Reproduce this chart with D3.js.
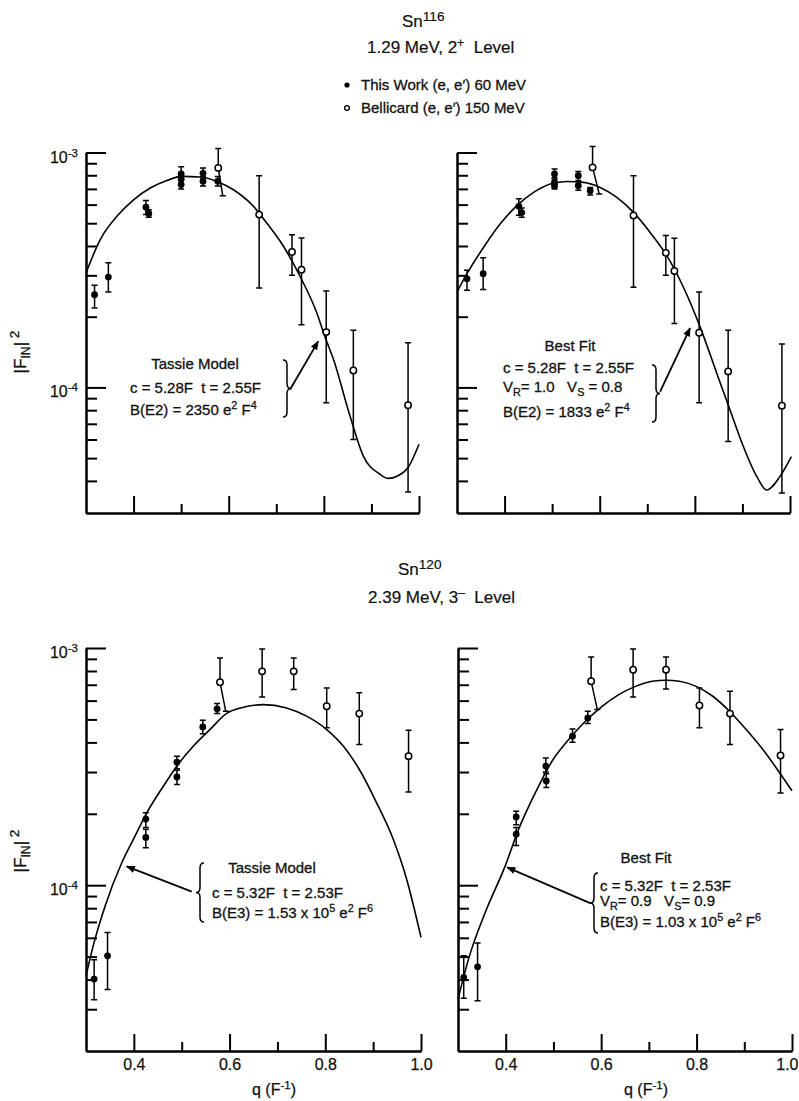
<!DOCTYPE html>
<html>
<head>
<meta charset="utf-8">
<script src="https://cdn.jsdelivr.net/npm/d3@7"></script>
<style>
  body { margin: 0; background: #fff; }
  svg { display: block; font-family: "Liberation Sans", Arial, Helvetica, sans-serif; }
  .axis path, .axis line { stroke: #000; stroke-width: 2; }
  .curve { fill: none; stroke: #000; stroke-width: 1.6; }
  .err { stroke: #000; stroke-width: 1.5; fill: none; }
  .note { font-size: 15px; fill: #111; stroke: #111; stroke-width: 0.3px; }
  .tick-label { font-size: 16px; fill: #111; stroke: #111; stroke-width: 0.25px; }
  .title { font-size: 17px; fill: #111; stroke: #111; stroke-width: 0.2px; }
  .ylab { font-size: 17px; fill: #111; stroke: #111; stroke-width: 0.3px; }
</style>
</head>
<body>
<script>
const width = 799, height = 1101;

// Sn116 2+ panel data, rows are [q, |F|^2, low, high]
const topLeftThisWork = [
  [0.318, 2.48e-4, 2.18e-4, 2.72e-4],
  [0.347, 2.95e-4, 2.55e-4, 3.39e-4],
  [0.426, 5.85e-4, 5.45e-4, 6.25e-4],
  [0.432, 5.50e-4, 5.30e-4, 5.70e-4],
  [0.500, 8.10e-4, 7.70e-4, 8.70e-4],
  [0.500, 7.70e-4, 7.30e-4, 8.10e-4],
  [0.500, 7.30e-4, 7.00e-4, 7.60e-4],
  [0.546, 8.15e-4, 7.80e-4, 8.60e-4],
  [0.546, 7.55e-4, 7.20e-4, 7.90e-4],
  [0.577, 7.55e-4, 7.20e-4, 7.90e-4]
];
// Bellicard rows: [q, |F|^2, low, high, q where the lower bar ends (if slanted)]
const topLeftBellicard = [
  [0.578, 8.60e-4, 6.54e-4, 1.04e-3, 0.5875],
  [0.664, 5.44e-4, 2.65e-4, 7.96e-4],
  [0.733, 3.77e-4, 3.00e-4, 4.47e-4],
  [0.753, 3.17e-4, 1.85e-4, 4.33e-4],
  [0.805, 1.72e-4, 8.60e-5, 2.57e-4],
  [0.862, 1.18e-4, 6.00e-5, 1.75e-4],
  [0.977, 8.40e-5, 3.59e-5, 1.55e-4]
];
const topLeftCurve = [
  [0.300, 3.07e-4], [0.330, 4.26e-4], [0.365, 5.35e-4], [0.400, 6.29e-4],
  [0.435, 7.06e-4], [0.470, 7.60e-4], [0.501, 7.91e-4], [0.540, 7.86e-4],
  [0.575, 7.53e-4], [0.610, 6.94e-4], [0.652, 5.90e-4], [0.680, 5.01e-4],
  [0.715, 3.99e-4], [0.750, 2.97e-4], [0.785, 2.08e-4], [0.802, 1.65e-4],
  [0.820, 1.32e-4], [0.855, 7.55e-5], [0.883, 5.10e-5], [0.918, 4.27e-5],
  [0.935, 4.10e-5], [0.955, 4.20e-5], [0.977, 4.56e-5], [1.000, 5.73e-5]
];

const topRightThisWork = [
  [0.321, 2.90e-4, 2.59e-4, 3.15e-4],
  [0.355, 3.05e-4, 2.61e-4, 3.56e-4],
  [0.430, 5.90e-4, 5.40e-4, 6.35e-4],
  [0.436, 5.55e-4, 5.30e-4, 5.80e-4],
  [0.505, 8.10e-4, 7.70e-4, 8.50e-4],
  [0.505, 7.46e-4, 7.10e-4, 7.80e-4],
  [0.505, 7.22e-4, 7.00e-4, 7.50e-4],
  [0.555, 7.97e-4, 7.60e-4, 8.30e-4],
  [0.555, 7.22e-4, 6.90e-4, 7.50e-4],
  [0.580, 6.88e-4, 6.60e-4, 7.10e-4]
];
const topRightBellicard = [
  [0.585, 8.64e-4, 6.66e-4, 1.06e-3, 0.599],
  [0.671, 5.39e-4, 2.67e-4, 7.96e-4],
  [0.739, 3.74e-4, 3.00e-4, 4.43e-4],
  [0.757, 3.13e-4, 1.87e-4, 4.31e-4],
  [0.809, 1.71e-4, 8.60e-5, 2.55e-4],
  [0.870, 1.17e-4, 5.88e-5, 1.75e-4],
  [0.983, 8.35e-5, 3.55e-5, 1.53e-4]
];
const topRightCurve = [
  [0.300, 2.55e-4], [0.321, 3.05e-4], [0.356, 3.95e-4], [0.391, 4.97e-4],
  [0.426, 5.94e-4], [0.461, 6.76e-4], [0.496, 7.34e-4], [0.531, 7.53e-4],
  [0.566, 7.46e-4], [0.601, 7.10e-4], [0.636, 6.44e-4], [0.671, 5.56e-4],
  [0.706, 4.57e-4], [0.741, 3.64e-4], [0.776, 2.67e-4], [0.811, 1.81e-4],
  [0.846, 1.15e-4], [0.874, 8.01e-5], [0.902, 5.60e-5], [0.930, 4.18e-5],
  [0.951, 3.66e-5], [0.979, 4.18e-5], [1.003, 5.07e-5]
];

// Sn120 3- panel data
const bottomLeftThisWork = [
  [0.317, 4.02e-5, 3.29e-5, 4.85e-5],
  [0.345, 5.04e-5, 3.63e-5, 6.32e-5],
  [0.425, 1.90e-4, 1.75e-4, 2.02e-4],
  [0.425, 1.59e-4, 1.44e-4, 1.72e-4],
  [0.490, 3.30e-4, 3.10e-4, 3.50e-4],
  [0.490, 2.86e-4, 2.66e-4, 3.05e-4],
  [0.544, 4.65e-4, 4.35e-4, 4.96e-4],
  [0.574, 5.54e-4, 5.29e-4, 5.83e-4]
];
const bottomLeftBellicard = [
  [0.580, 7.17e-4, 5.41e-4, 9.08e-4, 0.592],
  [0.668, 7.97e-4, 6.22e-4, 9.90e-4],
  [0.734, 7.97e-4, 6.68e-4, 9.08e-4],
  [0.803, 5.68e-4, 4.61e-4, 6.79e-4],
  [0.871, 5.29e-4, 3.92e-4, 6.47e-4],
  [0.974, 3.50e-4, 2.47e-4, 4.50e-4]
];
const bottomLeftCurve = [
  [0.300, 4.15e-5], [0.315, 5.55e-5], [0.340, 8.18e-5], [0.375, 1.246e-4],
  [0.399, 1.561e-4], [0.427, 2.02e-4], [0.462, 2.62e-4], [0.490, 3.18e-4],
  [0.524, 3.85e-4], [0.559, 4.53e-4], [0.594, 5.30e-4], [0.625, 5.60e-4],
  [0.670, 5.77e-4], [0.719, 5.59e-4], [0.761, 5.16e-4], [0.803, 4.53e-4],
  [0.838, 3.85e-4], [0.873, 3.03e-4], [0.907, 2.23e-4], [0.942, 1.561e-4],
  [0.970, 1.06e-4], [1.000, 6.03e-5]
];

const bottomRightThisWork = [
  [0.312, 4.09e-5, 3.34e-5, 5.04e-5],
  [0.341, 4.53e-5, 3.26e-5, 5.70e-5],
  [0.422, 1.94e-4, 1.80e-4, 2.05e-4],
  [0.422, 1.64e-4, 1.47e-4, 1.75e-4],
  [0.484, 3.18e-4, 3.00e-4, 3.44e-4],
  [0.485, 2.75e-4, 2.58e-4, 2.95e-4],
  [0.540, 4.25e-4, 4.01e-4, 4.56e-4],
  [0.572, 5.07e-4, 4.80e-4, 5.41e-4]
];
const bottomRightBellicard = [
  [0.579, 7.24e-4, 5.50e-4, 9.17e-4, 0.592],
  [0.667, 8.10e-4, 6.22e-4, 9.90e-4],
  [0.736, 8.10e-4, 6.72e-4, 9.17e-4],
  [0.806, 5.72e-4, 4.61e-4, 6.79e-4],
  [0.870, 5.29e-4, 3.92e-4, 6.57e-4],
  [0.976, 3.52e-4, 2.45e-4, 4.53e-4]
];
const bottomRightCurve = [
  [0.300, 3.31e-5], [0.322, 4.88e-5], [0.357, 7.67e-5], [0.399, 1.206e-4],
  [0.427, 1.72e-4], [0.462, 2.45e-4], [0.497, 3.33e-4], [0.532, 4.11e-4],
  [0.567, 4.91e-4], [0.602, 5.68e-4], [0.637, 6.36e-4], [0.672, 6.89e-4],
  [0.707, 7.24e-4], [0.736, 7.31e-4], [0.764, 7.24e-4], [0.799, 6.89e-4],
  [0.834, 6.26e-4], [0.869, 5.41e-4], [0.904, 4.53e-4], [0.939, 3.73e-4],
  [0.974, 2.98e-4], [1.000, 2.50e-4]
];

// Ticks
const decadeTicks = [1e-3, 1e-4];
const decadeLabels = ["-3", "-4"];
const minorTicks = [9e-4, 8e-4, 7e-4, 6e-4, 5e-4, 4e-4, 3e-4, 2e-4,
                    9e-5, 8e-5, 7e-5, 6e-5, 5e-5, 4e-5, 3e-5];
const qMajor = [0.4, 0.6, 0.8, 1.0];
const qMinor = [0.5, 0.7, 0.9];
const qLabels = ["0.4", "0.6", "0.8", "1.0"];

// Annotation arrows: [from q, from value, to q, to value]
const topLeftArrow = [0.729, 9.8e-5, 0.788, 1.57e-4];
const topRightArrow = [0.727, 9.6e-5, 0.790, 1.79e-4];
const bottomLeftArrow = [0.521, 9.4e-5, 0.385, 1.20e-4];
const bottomRightArrow = [0.577, 8.4e-5, 0.403, 1.19e-4];

const svg = d3.select("body").append("svg")
  .attr("width", width).attr("height", height);

svg.append("defs").append("marker")
  .attr("id", "head")
  .attr("viewBox", "0 0 10 10")
  .attr("refX", 9).attr("refY", 5)
  .attr("markerWidth", 11).attr("markerHeight", 9)
  .attr("markerUnits", "userSpaceOnUse")
  .attr("orient", "auto")
  .append("path").attr("d", "M0,1 L10,5 L0,9 Z").attr("fill", "#000");

// text with superscript / subscript pieces
function richText(g, t, cls, supSize) {
  const text = g.append("text")
    .attr("class", cls || "note")
    .attr("x", t.x).attr("y", t.y)
    .attr("text-anchor", t.anchor || "start")
    .style("white-space", "pre");
  let shift = 0;
  t.parts.forEach(function(p) {
    const kind = p[1];
    const target = kind === "sup" ? -6 : kind === "sub" ? 4 : 0;
    text.append("tspan")
      .attr("dy", target - shift)
      .attr("font-size", kind ? (supSize || "0.72em") : null)
      .text(p[0]);
    shift = target;
  });
  return text;
}

// curly brace, dir 1 = "}" , dir -1 = "{"
function bracePath(x, y0, y1, dir) {
  const w = 8 * dir, r = 5, ym = (y0 + y1) / 2, h = x + w / 2;
  return `M${x},${y0} Q${h},${y0} ${h},${y0 + r} L${h},${ym - r} Q${h},${ym} ${x + w},${ym}` +
         ` Q${h},${ym} ${h},${ym + r} L${h},${y1 - r} Q${h},${y1} ${x},${y1}`;
}

const panels = [
  { left: 86, right: 419, top: 152.5, bottom: 513, yMin: 2.92e-5, labelY: 352,
    thisWork: topLeftThisWork, bellicard: topLeftBellicard, curve: topLeftCurve,
    yLabels: true, qText: false, arrow: topLeftArrow,
    brace: [283, 360, 417, 1],
    notes: [
      { x: 195, y: 369, anchor: "middle", parts: [["Tassie Model"]] },
      { x: 130, y: 393, parts: [["c = 5.28F  t = 2.55F"]] },
      { x: 130, y: 415, parts: [["B(E2) = 2350 e"], ["2", "sup"], [" F"], ["4", "sup"]] }
    ] },
  { left: 457, right: 790, top: 152.5, bottom: 513, yMin: 2.92e-5,
    thisWork: topRightThisWork, bellicard: topRightBellicard, curve: topRightCurve,
    yLabels: false, qText: false, arrow: topRightArrow,
    brace: [652, 365, 422, 1],
    notes: [
      { x: 570, y: 351, anchor: "middle", parts: [["Best Fit"]] },
      { x: 503, y: 373, parts: [["c = 5.28F  t = 2.55F"]] },
      { x: 503, y: 392, parts: [["V"], ["R", "sub"], ["= 1.0   V"], ["S", "sub"], [" = 0.8"]] },
      { x: 503, y: 417, parts: [["B(E2) = 1833 e"], ["2", "sup"], [" F"], ["4", "sup"]] }
    ] },
  { left: 86, right: 421, top: 648, bottom: 1051, yMin: 2e-5, labelY: 851,
    thisWork: bottomLeftThisWork, bellicard: bottomLeftBellicard, curve: bottomLeftCurve,
    yLabels: true, qText: true, arrow: bottomLeftArrow,
    brace: [204, 863, 922, -1],
    notes: [
      { x: 272, y: 873, anchor: "middle", parts: [["Tassie Model"]] },
      { x: 212, y: 898, parts: [["c = 5.32F  t = 2.53F"]] },
      { x: 212, y: 918, parts: [["B(E3) = 1.53 x 10"], ["5", "sup"], [" e"], ["2", "sup"], [" F"], ["6", "sup"]] }
    ] },
  { left: 458, right: 792, top: 648, bottom: 1051, yMin: 2e-5,
    thisWork: bottomRightThisWork, bellicard: bottomRightBellicard, curve: bottomRightCurve,
    yLabels: false, qText: true, arrow: bottomRightArrow,
    brace: [598, 873, 933, -1],
    notes: [
      { x: 646, y: 863, anchor: "middle", parts: [["Best Fit"]] },
      { x: 600, y: 891, parts: [["c = 5.32F  t = 2.53F"]] },
      { x: 600, y: 906, parts: [["V"], ["R", "sub"], ["= 0.9   V"], ["S", "sub"], ["= 0.9"]] },
      { x: 600, y: 927, parts: [["B(E3) = 1.03 x 10"], ["5", "sup"], [" e"], ["2", "sup"], [" F"], ["6", "sup"]] }
    ] }
];

function drawPanel(p) {
  const x = d3.scaleLinear().domain([0.3, 1.0]).range([p.left, p.right]);
  const y = d3.scaleLog().domain([p.yMin, 1e-3]).range([p.bottom, p.top]);
  const g = svg.append("g");

  // y axis, ticks point into the plot
  g.append("g").attr("class", "axis")
    .attr("transform", `translate(${p.left},0)`)
    .call(d3.axisLeft(y).tickValues(minorTicks.filter(v => v > p.yMin * 1.05))
      .tickSize(-11).tickSizeOuter(0).tickFormat(""));
  g.append("g").attr("class", "axis")
    .attr("transform", `translate(${p.left},0)`)
    .call(d3.axisLeft(y).tickValues(decadeTicks).tickSize(-20).tickSizeOuter(0).tickFormat(""));

  // q axis
  g.append("g").attr("class", "axis")
    .attr("transform", `translate(0,${p.bottom})`)
    .call(d3.axisBottom(x).tickValues(qMinor).tickSize(-9).tickSizeOuter(0).tickFormat(""));
  const qAxis = g.append("g").attr("class", "axis")
    .attr("transform", `translate(0,${p.bottom})`)
    .call(d3.axisBottom(x).tickValues(qMajor).tickSize(-17).tickSizeOuter(0)
      .tickPadding(8)
      .tickFormat((d, i) => p.qText ? qLabels[i] : ""));
  qAxis.selectAll("text")
    .attr("class", "tick-label")
    .attr("font-size", null)
    .attr("fill", null);
  // the last label sits against the page edge on the right panel
  if (p.right > width - 20) {
    qAxis.selectAll("text").filter(d => d === 1.0)
      .attr("text-anchor", "end").attr("x", width - 1 - p.right);
  }

  if (p.yLabels) {
    decadeTicks.forEach(function(v, i) {
      richText(g, { x: p.left - 8, y: y(v) + 10, anchor: "end",
        parts: [["10"], [decadeLabels[i], "sup"]] }, "tick-label");
    });
    const lab = g.append("text")
      .attr("class", "ylab")
      .attr("transform", `translate(26,${p.labelY}) rotate(-90)`)
      .attr("text-anchor", "middle");
    lab.append("tspan").text("|F");
    lab.append("tspan").attr("dy", 4).attr("font-size", "0.72em").text("IN");
    lab.append("tspan").attr("dy", -4).text("|");
    lab.append("tspan").attr("dy", -7).attr("font-size", "0.8em").text(" 2");
  }
  if (p.qText) {
    const qt = g.append("text").attr("class", "tick-label")
      .attr("x", p.left + 188).attr("y", p.bottom + 44)
      .attr("text-anchor", "middle");
    qt.append("tspan").text("q (F");
    qt.append("tspan").attr("dy", -6).attr("font-size", "0.72em").text("-1");
    qt.append("tspan").attr("dy", 6).text(")");
  }

  // model curve
  g.append("path")
    .datum(p.curve)
    .attr("class", "curve")
    .attr("d", d3.line().x(d => x(d[0])).y(d => y(d[1])).curve(d3.curveMonotoneX));

  // error bars
  const cap = 3;
  const bars = p.thisWork.concat(p.bellicard);
  bars.forEach(function(d) {
    const px = x(d[0]), lowX = d[4] !== undefined ? x(d[4]) : px;
    g.append("path").attr("class", "err")
      .attr("d", `M${px},${y(d[3])} L${px},${y(d[1])} L${lowX},${y(d[2])}` +
                 `M${px - cap},${y(d[3])} h${cap * 2}` +
                 `M${lowX - cap},${y(d[2])} h${cap * 2}`);
  });

  g.selectAll("circle.work")
    .data(p.thisWork)
    .enter().append("circle")
    .attr("class", "work")
    .attr("cx", d => x(d[0]))
    .attr("cy", d => y(d[1]))
    .attr("r", 3.4)
    .attr("fill", "#000");

  g.selectAll("circle.bell")
    .data(p.bellicard)
    .enter().append("circle")
    .attr("class", "bell")
    .attr("cx", d => x(d[0]))
    .attr("cy", d => y(d[1]))
    .attr("r", 3.2)
    .attr("fill", "#fff")
    .attr("stroke", "#000")
    .attr("stroke-width", 1.5);

  // annotation
  p.notes.forEach(t => richText(g, t));
  g.append("path").attr("class", "err")
    .attr("d", bracePath(p.brace[0], p.brace[1], p.brace[2], p.brace[3]));
  g.append("line")
    .attr("x1", x(p.arrow[0])).attr("y1", y(p.arrow[1]))
    .attr("x2", x(p.arrow[2])).attr("y2", y(p.arrow[3]))
    .attr("stroke", "#000").attr("stroke-width", 1.8)
    .attr("marker-end", "url(#head)");
}

panels.forEach(drawPanel);

// titles and legend
const head = svg.append("g");
richText(head, { x: 402, y: 27, parts: [["Sn"], ["116", "sup"]] }, "title", "0.8em");
richText(head, { x: 367, y: 53, parts: [["1.29 MeV, 2"], ["+", "sup"], ["  Level"]] }, "title");
richText(head, { x: 398, y: 575, parts: [["Sn"], ["120", "sup"]] }, "title", "0.8em");
richText(head, { x: 368, y: 603, parts: [["2.39 MeV, 3"], ["\u2013", "sup"], ["  Level"]] }, "title");

const legend = svg.append("g");
legend.append("circle").attr("cx", 347).attr("cy", 85).attr("r", 2.6).attr("fill", "#000");
legend.append("circle").attr("cx", 347).attr("cy", 108).attr("r", 2.4)
  .attr("fill", "#fff").attr("stroke", "#000").attr("stroke-width", 1.3);
richText(legend, { x: 361, y: 90, parts: [["This Work (e, e\u2032) 60 MeV"]] });
richText(legend, { x: 361, y: 113, parts: [["Bellicard (e, e\u2032) 150 MeV"]] });
</script>
</body>
</html>
